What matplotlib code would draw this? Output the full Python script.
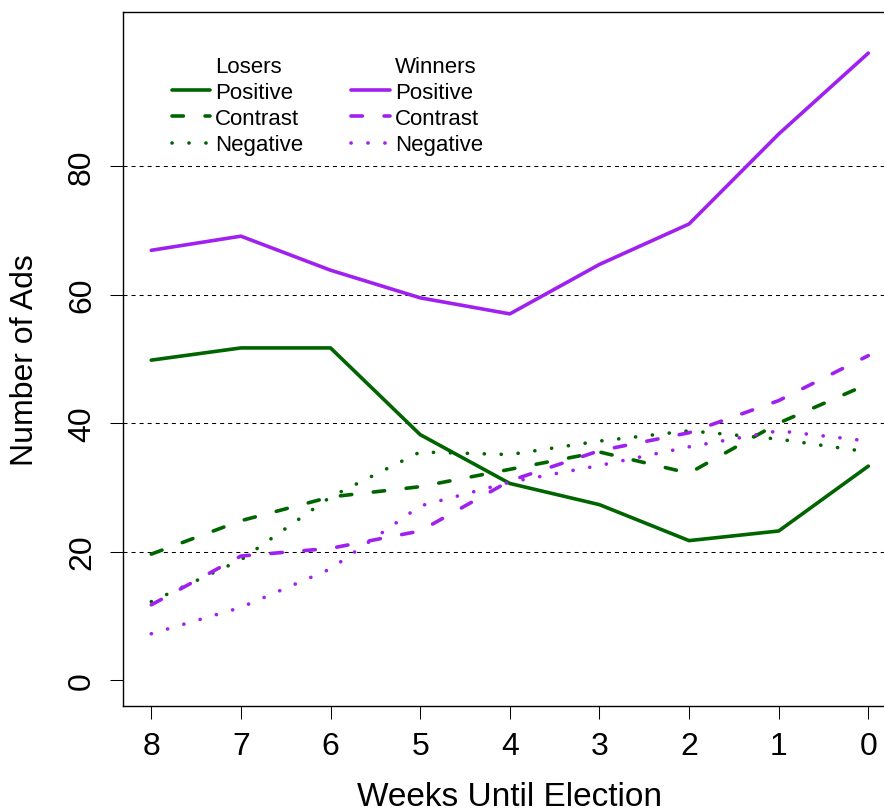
import matplotlib
matplotlib.use("Agg")
import matplotlib.pyplot as plt
from matplotlib.lines import Line2D

plt.rcParams['font.family'] = ['Liberation Sans', 'DejaVu Sans']
plt.rcParams['lines.scale_dashes'] = False

weeks = [8, 7, 6, 5, 4, 3, 2, 1, 0]
losers_positive = [49.8, 51.7, 51.7, 38.2, 30.6, 27.3, 21.7, 23.2, 33.3]
losers_contrast = [19.6, 24.8, 28.5, 30.1, 32.8, 35.5, 32.2, 40.0, 46.1]
losers_negative = [12.2, 18.7, 28.5, 35.5, 35.1, 37.2, 38.8, 37.5, 35.5]
winners_positive = [66.9, 69.1, 63.8, 59.5, 57.0, 64.7, 71.0, 85.0, 97.6]
winners_contrast = [11.7, 19.3, 20.5, 23.2, 31.0, 35.7, 38.5, 43.5, 50.5]
winners_negative = [7.2, 11.3, 17.3, 27.1, 30.8, 33.4, 36.3, 38.8, 37.2]
yticks = [0, 20, 40, 60, 80]
gridlines = [20, 40, 60, 80]
style_labels = ['Positive', 'Contrast', 'Negative']

GREEN = '#006400'
PURPLE = '#A020F0'
LW = 2.6
SOLID = '-'
DASHED = (0, (8.2, 15.6))
DOTTED = (0, (0.1, 12.1))

fig = plt.figure(figsize=(8.84, 8.12), dpi=100)
W, H = 884, 812
left, right, bottom, top = 122.6, 897.0, 706.7, 13.0
ax = fig.add_axes([left / W, 1 - bottom / H, (right - left) / W, (bottom - top) / H])

for g in gridlines:
    ax.axhline(g, color='black', lw=0.75, linestyle=(0, (2.9, 2.9)), zorder=1)

def draw(vals, color, ls):
    return ax.plot(weeks, vals, color=color, lw=LW, linestyle=ls,
                   solid_capstyle='round', dash_capstyle='round', zorder=3)[0]

draw(losers_positive, GREEN, SOLID)
draw(losers_contrast, GREEN, DASHED)
draw(losers_negative, GREEN, DOTTED)
draw(winners_positive, PURPLE, SOLID)
draw(winners_contrast, PURPLE, DASHED)
draw(winners_negative, PURPLE, DOTTED)

ax.set_xlim(8.32, -0.32)
ax.set_ylim(-4, 104)
ax.set_xticks(weeks)
ax.set_xticklabels([str(w) for w in weeks], fontsize=23)
ax.set_yticks(yticks)
ax.set_yticklabels([str(v) for v in yticks], fontsize=23, rotation=90, va='center')
ax.tick_params(axis='both', direction='out', length=9.4, width=0.75, color='black')
ax.tick_params(axis='x', pad=9.0)
ax.tick_params(axis='y', pad=9.0)
for s in ax.spines.values():
    s.set_linewidth(1.0)
    s.set_color('black')

fig.text(510 / W, 1 - 806 / H, 'Weeks Until Election', ha='center', va='baseline', fontsize=24)
fig.text(25 / W, 1 - 360 / H, 'Number of Ads', ha='center', va='center', rotation=90, fontsize=23)

def make_legend(title, color, xpix):
    handles = [Line2D([], [], color='none')]
    for ls in (SOLID, DASHED, DOTTED):
        handles.append(Line2D([], [], color=color, lw=LW, linestyle=ls,
                              solid_capstyle='round', dash_capstyle='round'))
    leg = ax.legend(handles, [title] + style_labels, loc='upper left',
                    bbox_to_anchor=(xpix / W, 1 - 57 / H),
                    bbox_transform=fig.transFigure, frameon=False,
                    fontsize=16, borderpad=0, borderaxespad=0,
                    handlelength=1.75, handletextpad=0.22, labelspacing=0.23)
    return leg

leg1 = make_legend('Losers', GREEN, 171.5)
ax.add_artist(leg1)
leg2 = make_legend('Winners', PURPLE, 351.0)

fig.savefig('out.png', dpi=100)
